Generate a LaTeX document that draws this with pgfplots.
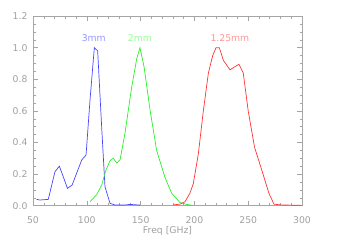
\documentclass[border=0pt]{standalone}
\usepackage{pgfplots}
\pgfplotsset{compat=1.18}
\usepackage{fontspec}
\setmainfont{DejaVu Sans}
\definecolor{axgray}{RGB}{165,165,165}
\definecolor{txtgray}{RGB}{160,160,160}
\definecolor{cblue}{RGB}{70,70,255}
\definecolor{cgreen}{RGB}{40,240,40}
\definecolor{cred}{RGB}{255,50,50}
\begin{document}
\begin{tikzpicture}
\path[use as bounding box] (0,0) rectangle (359bp,242bp);
\begin{axis}[
  at={(33bp,36.3bp)}, anchor=south west,
  scale only axis, width=269bp, height=189.6bp,
  xmin=50, xmax=300, ymin=0, ymax=1.2,
  xtick={50,100,...,300}, ytick={0,0.2,...,1.2},
  minor x tick num=4, minor y tick num=3,
  tick align=inside,
  major tick length=5bp, minor tick length=2.5bp,
  axis line style={axgray, line width=0.6pt},
  every tick/.style={axgray, line width=0.5pt},
  tick label style={text=txtgray, font=\fontsize{9.3}{10}\selectfont},
  xticklabel style={anchor=base, yshift=-17.3bp},
  yticklabel style={xshift=-2bp, /pgf/number format/fixed, /pgf/number format/fixed zerofill, /pgf/number format/precision=1},
  /pgf/number format/assume math mode=true,
  xlabel={Freq [GHz]},
  xlabel style={at={(axis description cs:0.5,0)}, anchor=base, yshift=-28bp, text=txtgray, font=\fontsize{9.3}{10}\selectfont},
  clip=false,
]
\addplot[cblue, line width=0.7pt] coordinates {
(53.4,0.04) (56.5,0.036) (64.2,0.04) (70.4,0.215) (74.5,0.25) (78.3,0.18)
(82,0.11) (86.3,0.13) (95.3,0.29) (99.3,0.32) (103,0.67) (107,1.0)
(110.1,0.98) (113.8,0.5) (116.9,0.12) (121.6,0.015) (126,0.005)
(135,0.004) (140,0.008) (145,0.006) (149.4,0.004)
};
\addplot[cgreen, line width=0.7pt] coordinates {
(103,0.025) (109.2,0.07) (113.8,0.13) (117.8,0.225) (121.6,0.285)
(124.6,0.30) (127.8,0.27) (130.9,0.29) (135.5,0.46) (141.7,0.75)
(146.4,0.93) (149.4,1.0) (153.2,0.88) (158.7,0.61) (164.9,0.35)
(172.6,0.18) (178.8,0.08) (186.6,0.02) (193,0.008) (199,0.001)
};
\addplot[cred, line width=0.7pt] coordinates {
(180.4,0.005) (186.6,0.01) (191.3,0.025) (195.9,0.08) (199,0.14)
(203.7,0.33) (208.3,0.6) (213,0.84) (217,0.95) (220.1,1.0) (223.2,1.0)
(226.9,0.92) (233.1,0.86) (237.7,0.88) (241.4,0.895) (245.4,0.84)
(250,0.6) (255.9,0.37) (263.1,0.215) (269.2,0.08) (273.9,0.01)
(280,0.005) (300,0.002)
};
\node[text={rgb,255:red,150;green,150;blue,255}, font=\fontsize{9.3}{10}\selectfont] at (axis cs:106.5,1.063) {3mm};
\node[text={rgb,255:red,150;green,255;blue,150}, font=\fontsize{9.3}{10}\selectfont] at (axis cs:149.4,1.063) {2mm};
\node[text={rgb,255:red,255;green,150;blue,150}, font=\fontsize{9.3}{10}\selectfont] at (axis cs:233,1.063) {1.25mm};
\end{axis}
\end{tikzpicture}
\end{document}
